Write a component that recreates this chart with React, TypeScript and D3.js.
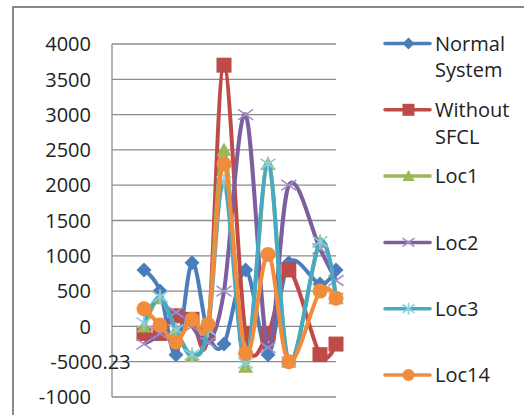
import React from "react";
import * as d3 from "d3";

const xValues = [2, 3, 4, 5, 6, 7, 8.35, 9.75, 11.05, 13, 14];
const normalSystem = [800, 500, -400, 900, -100, -250, 800, -400, 900, 600, 800];
const withoutSFCL = [-100, -100, 150, 100, -100, 3700, -100, -100, 800, -400, -250];
const loc1 = [0, 400, -50, -420, 0, 2500, -570, 2300, -500, 1200, 400];
const loc2 = [-250, -100, 200, 0, -230, 500, 3000, -300, 2000, 1100, 650];
const loc3 = [50, 420, -50, -400, -50, 2050, -520, 2300, -500, 1200, 400];
const loc14 = [250, 20, -220, 100, 30, 2300, -380, 1020, -500, 500, 400];

const yTicks = [4000, 3500, 3000, 2500, 2000, 1500, 1000, 500, 0, -500, -1000];
const yTickExtra: Record<string, string> = { "-500": "0.23" };

type Marker = "diamond" | "square" | "triangle" | "x" | "star" | "circle";
const seriesNames = [["Normal", "System"], ["Without", "SFCL"], ["Loc1"], ["Loc2"], ["Loc3"], ["Loc14"]];
const seriesValues = [normalSystem, withoutSFCL, loc1, loc2, loc3, loc14];
const seriesColors = ["#4A7EBB", "#BE4B48", "#98B954", "#7D5FA0", "#46AAC4", "#F08C3C"];
const markerColors = ["#4A7EBB", "#BE4B48", "#98B954", "#A58FC4", "#8FCFE0", "#F08C3C"];
const seriesMarkers: Marker[] = ["diamond", "square", "triangle", "x", "star", "circle"];

const FONT = "'Open Sans', 'DejaVu Sans', sans-serif";

function MarkerShape({ type, cx, cy, size, fill, stroke }: { type: Marker; cx: number; cy: number; size: number; fill: string; stroke: string }) {
  const h = size / 2;
  switch (type) {
    case "diamond":
      return <path d={`M${cx},${cy - h}L${cx + h},${cy}L${cx},${cy + h}L${cx - h},${cy}Z`} fill={fill} />;
    case "square":
      return <rect x={cx - h} y={cy - h} width={size} height={size} fill={fill} />;
    case "triangle":
      return <path d={`M${cx},${cy - h}L${cx + h},${cy + h * 0.8}L${cx - h},${cy + h * 0.8}Z`} fill={fill} />;
    case "circle":
      return <circle cx={cx} cy={cy} r={h} fill={fill} />;
    case "x":
      return (
        <path d={`M${cx - h},${cy - h * 0.7}L${cx + h},${cy + h * 0.7}M${cx - h},${cy + h * 0.7}L${cx + h},${cy - h * 0.7}`} stroke={stroke} strokeWidth={1.6} fill="none" />
      );
    case "star":
      return (
        <path
          d={`M${cx - h},${cy - h * 0.7}L${cx + h},${cy + h * 0.7}M${cx - h},${cy + h * 0.7}L${cx + h},${cy - h * 0.7}M${cx},${cy - h}L${cx},${cy + h}`}
          stroke={stroke}
          strokeWidth={1.6}
          fill="none"
        />
      );
  }
  return null;
}

export default function App() {
  const W = 524;
  const H = 415;
  const x = d3.scaleLinear().domain([0, 14]).range([112, 336]);
  const y = d3.scaleLinear().domain([-1000, 4000]).range([397, 44]);
  const line = d3
    .line<number>()
    .x((_, i) => x(xValues[i]))
    .y((d) => y(d))
    .curve(d3.curveCardinal.tension(0));

  const legendX1 = 385;
  const legendX2 = 430;
  const legendY0 = 43.5;
  const legendStep = 66.3;

  return (
    <svg width={W} height={H} style={{ position: "absolute", left: 0, top: 0, background: "#fff" }} fontFamily={FONT}>
      <rect x={0} y={0} width={W} height={H} fill="#fff" />
      {/* chart border */}
      <path d={`M13,${H + 5}L13,7L${W + 5},7`} fill="none" stroke="#888" strokeWidth={2} />
      {/* gridlines */}
      {yTicks.map((t) => (
        <line key={t} x1={112} x2={336} y1={y(t)} y2={y(t)} stroke="#8c8c8c" strokeWidth={1.3} />
      ))}
      <line x1={112} x2={112} y1={y(4000)} y2={y(-1000)} stroke="#8c8c8c" strokeWidth={1.3} />
      {/* tick labels */}
      {yTicks.map((t) => (
        <g key={"l" + t}>
          <text x={91} y={y(t)} dy="0.36em" textAnchor="end" fontSize={20} fill="#222">
            {String(t)}
          </text>
          {yTickExtra[String(t)] && (
            <text x={91} y={y(t)} dy="0.36em" textAnchor="start" fontSize={20} fill="#222">
              {yTickExtra[String(t)]}
            </text>
          )}
        </g>
      ))}
      {/* series */}
      {seriesValues.map((vals, si) => (
        <g key={"s" + si}>
          <path d={line(vals) || ""} fill="none" stroke={seriesColors[si]} strokeWidth={4} strokeLinejoin="round" />
          {vals.map((v, i) => (
            <MarkerShape key={i} type={seriesMarkers[si]} cx={x(xValues[i])} cy={y(v)} size={15} fill={seriesColors[si]} stroke={markerColors[si]} />
          ))}
        </g>
      ))}
      {/* legend */}
      {seriesNames.map((lines, si) => {
        const ly = legendY0 + si * legendStep;
        return (
          <g key={"lg" + si}>
            <line x1={legendX1} x2={legendX2} y1={ly} y2={ly} stroke={seriesColors[si]} strokeWidth={3.5} strokeLinecap="round" />
            <MarkerShape type={seriesMarkers[si]} cx={(legendX1 + legendX2) / 2 + 1} cy={ly} size={12} fill={seriesColors[si]} stroke={markerColors[si]} />
            {lines.map((t, li) => (
              <text key={li} x={435} y={ly + li * 26.5} dy="0.36em" fontSize={20} fill="#222">
                {t}
              </text>
            ))}
          </g>
        );
      })}
    </svg>
  );
}
